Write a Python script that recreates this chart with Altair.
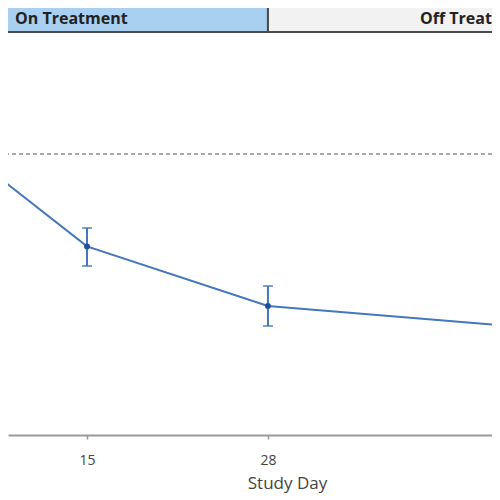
import altair as alt
import pandas as pd

# Data
days = [8, 15, 28, 46]
mean_vals = [-4.0, -23.1, -38.0, -43.2]
lower_vals = [-8.5, -28.0, -43.0, -48.2]
upper_vals = [0.5, -18.5, -33.0, -38.2]

phases = ["On Treatment", "Off Treatment"]
phase_start = [0, 28]
phase_end = [28, 80]
phase_label_day = [9.83, 38.92]
phase_colors = ["#a9d0f0", "#f2f2f2"]

ref_value = [0]
x_ticks = [15, 28]

df = pd.DataFrame({"day": days, "mean": mean_vals, "lo": lower_vals, "hi": upper_vals})
ph = pd.DataFrame({"phase": phases, "start": phase_start, "end": phase_end,
                   "lab": phase_label_day})
ref = pd.DataFrame({"v": ref_value})

xs = alt.Scale(domain=[9.325, 44.095], nice=False, zero=False)
ys = alt.Scale(domain=[-70.25, 36.5], nice=False, zero=False)

x_axis = alt.Axis(values=x_ticks, title="Study Day", grid=False, domain=True,
                  domainColor="#9a9a9a", domainWidth=2, tickColor="#9a9a9a",
                  tickSize=4, tickWidth=1.5, labelFontSize=14, labelColor="#444",
                  labelPadding=14, titleFontSize=17, titleColor="#444",
                  titleFontWeight="normal", titleX=279, titleY=40,
                  titleBaseline="top", labelFont="Open Sans", titleFont="Open Sans")

band = alt.Chart(ph).mark_rect(clip=True, stroke="#4a4a4a", strokeWidth=2).encode(
    x=alt.X("start:Q", scale=xs, axis=x_axis),
    x2="end:Q",
    y=alt.value(-12),
    y2=alt.value(24),
    color=alt.Color("phase:N", scale=alt.Scale(domain=phases, range=phase_colors),
                    legend=None),
)

band_text = alt.Chart(ph).mark_text(align="left", baseline="middle",
                                    font="Open Sans", fontWeight="bold", fontSize=16,
                                    color="#222").encode(
    x=alt.X("lab:Q", scale=xs),
    y=alt.value(11),
    text="phase:N",
)

ref_line = alt.Chart(ref).mark_rule(color="#a8a8a8", strokeDash=[4, 3],
                                    strokeWidth=2).encode(
    y=alt.Y("v:Q", scale=ys, axis=None),
)

line = alt.Chart(df).mark_line(clip=True, color="#4477bb", strokeWidth=2).encode(
    x=alt.X("day:Q", scale=xs),
    y=alt.Y("mean:Q", scale=ys, axis=None),
)

bars = alt.Chart(df).mark_rule(clip=True, color="#4477bb", strokeWidth=2).encode(
    x=alt.X("day:Q", scale=xs),
    y=alt.Y("lo:Q", scale=ys, axis=None),
    y2="hi:Q",
)

caps_lo = alt.Chart(df).mark_tick(clip=True, color="#4477bb", orient="horizontal",
                                  size=10, thickness=2).encode(
    x=alt.X("day:Q", scale=xs),
    y=alt.Y("lo:Q", scale=ys, axis=None),
)
caps_hi = alt.Chart(df).mark_tick(clip=True, color="#4477bb", orient="horizontal",
                                  size=10, thickness=2).encode(
    x=alt.X("day:Q", scale=xs),
    y=alt.Y("hi:Q", scale=ys, axis=None),
)

pts = alt.Chart(df).mark_point(clip=True, filled=True, color="#1f4f9c", size=35,
                               opacity=1).encode(
    x=alt.X("day:Q", scale=xs),
    y=alt.Y("mean:Q", scale=ys, axis=None),
)

chart = alt.layer(band, band_text, ref_line, line, bars, caps_lo, caps_hi, pts).properties(
    width=484, height=427,
    autosize=alt.AutoSizeParams(type="none"),
    padding={"left": 0, "top": 0, "right": 0, "bottom": 64},
).configure_view(stroke=None)

chart.save("out.html", embed_options={"renderer": "svg", "actions": False})
